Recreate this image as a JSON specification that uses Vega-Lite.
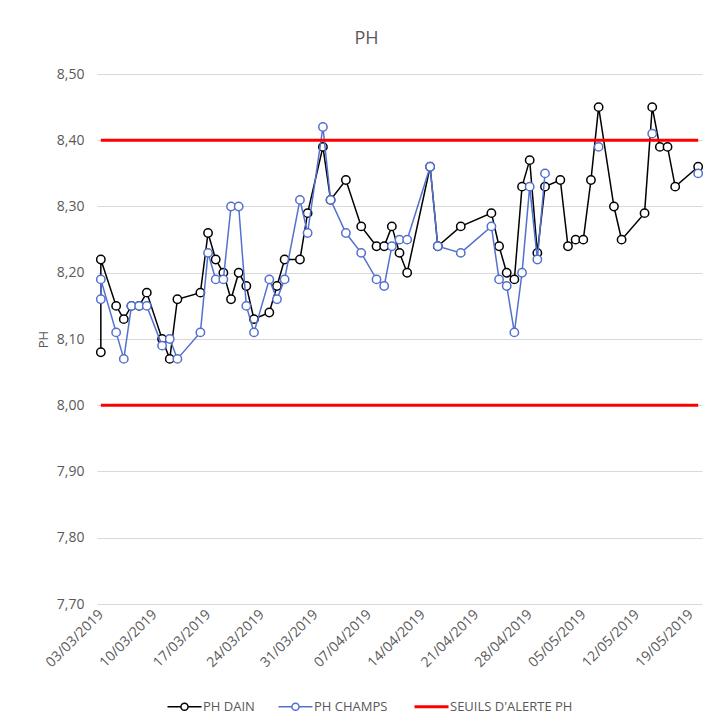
{
  "$schema": "https://vega.github.io/schema/vega-lite/v6.json",
  "width": 605,
  "height": 530,
  "autosize": {"type": "none"},
  "padding": {"left": 97, "top": 74, "right": 20, "bottom": 117},
  "background": "white",
  "config": {
    "view": {"stroke": null},
    "font": "Open Sans",
    "axis": {"labelFont": "Open Sans", "titleFont": "Open Sans", "labelColor": "#595959", "titleColor": "#595959", "labelFontSize": 14, "titleFontSize": 13, "titleFontWeight": "normal"},
    "legend": {"labelFont": "Open Sans", "labelColor": "#595959", "labelFontSize": 13}
  },
  "title": {"text": "PH", "font": "Open Sans", "fontSize": 18, "fontWeight": "normal", "color": "#595959", "anchor": "middle", "dx": -33, "offset": 19},
  "datasets": {
    "dain": [
      {"k": 1, "d": "2019-03-03", "v": 8.08},
      {"k": 2, "d": "2019-03-03", "v": 8.22},
      {"k": 3, "d": "2019-03-05", "v": 8.15},
      {"k": 4, "d": "2019-03-06", "v": 8.13},
      {"k": 5, "d": "2019-03-07", "v": 8.15},
      {"k": 6, "d": "2019-03-08", "v": 8.15},
      {"k": 7, "d": "2019-03-09", "v": 8.17},
      {"k": 8, "d": "2019-03-11", "v": 8.10},
      {"k": 9, "d": "2019-03-12", "v": 8.07},
      {"k": 10, "d": "2019-03-13", "v": 8.16},
      {"k": 11, "d": "2019-03-16", "v": 8.17},
      {"k": 12, "d": "2019-03-17", "v": 8.26},
      {"k": 13, "d": "2019-03-18", "v": 8.22},
      {"k": 14, "d": "2019-03-19", "v": 8.20},
      {"k": 15, "d": "2019-03-20", "v": 8.16},
      {"k": 16, "d": "2019-03-21", "v": 8.20},
      {"k": 17, "d": "2019-03-22", "v": 8.18},
      {"k": 18, "d": "2019-03-23", "v": 8.13},
      {"k": 19, "d": "2019-03-25", "v": 8.14},
      {"k": 20, "d": "2019-03-26", "v": 8.18},
      {"k": 21, "d": "2019-03-27", "v": 8.22},
      {"k": 22, "d": "2019-03-29", "v": 8.22},
      {"k": 23, "d": "2019-03-30", "v": 8.29},
      {"k": 24, "d": "2019-04-01", "v": 8.39},
      {"k": 25, "d": "2019-04-02", "v": 8.31},
      {"k": 26, "d": "2019-04-04", "v": 8.34},
      {"k": 27, "d": "2019-04-06", "v": 8.27},
      {"k": 28, "d": "2019-04-08", "v": 8.24},
      {"k": 29, "d": "2019-04-09", "v": 8.24},
      {"k": 30, "d": "2019-04-10", "v": 8.27},
      {"k": 31, "d": "2019-04-11", "v": 8.23},
      {"k": 32, "d": "2019-04-12", "v": 8.20},
      {"k": 33, "d": "2019-04-15", "v": 8.36},
      {"k": 34, "d": "2019-04-16", "v": 8.24},
      {"k": 35, "d": "2019-04-19", "v": 8.27},
      {"k": 36, "d": "2019-04-23", "v": 8.29},
      {"k": 37, "d": "2019-04-24", "v": 8.24},
      {"k": 38, "d": "2019-04-25", "v": 8.20},
      {"k": 39, "d": "2019-04-26", "v": 8.19},
      {"k": 40, "d": "2019-04-27", "v": 8.33},
      {"k": 41, "d": "2019-04-28", "v": 8.37},
      {"k": 42, "d": "2019-04-29", "v": 8.23},
      {"k": 43, "d": "2019-04-30", "v": 8.33},
      {"k": 44, "d": "2019-05-02", "v": 8.34},
      {"k": 45, "d": "2019-05-03", "v": 8.24},
      {"k": 46, "d": "2019-05-04", "v": 8.25},
      {"k": 47, "d": "2019-05-05", "v": 8.25},
      {"k": 48, "d": "2019-05-06", "v": 8.34},
      {"k": 49, "d": "2019-05-07", "v": 8.45},
      {"k": 50, "d": "2019-05-09", "v": 8.30},
      {"k": 51, "d": "2019-05-10", "v": 8.25},
      {"k": 52, "d": "2019-05-13", "v": 8.29},
      {"k": 53, "d": "2019-05-14", "v": 8.45},
      {"k": 54, "d": "2019-05-15", "v": 8.39},
      {"k": 55, "d": "2019-05-16", "v": 8.39},
      {"k": 56, "d": "2019-05-17", "v": 8.33},
      {"k": 57, "d": "2019-05-20", "v": 8.36}
    ],
    "champs": [
      {"k": 1, "p": "a", "d": "2019-03-03", "v": 8.16},
      {"k": 2, "p": "a", "d": "2019-03-03", "v": 8.19},
      {"k": 3, "p": "a", "d": "2019-03-05", "v": 8.11},
      {"k": 4, "p": "a", "d": "2019-03-06", "v": 8.07},
      {"k": 5, "p": "a", "d": "2019-03-07", "v": 8.15},
      {"k": 6, "p": "a", "d": "2019-03-08", "v": 8.15},
      {"k": 7, "p": "a", "d": "2019-03-09", "v": 8.15},
      {"k": 8, "p": "a", "d": "2019-03-11", "v": 8.09},
      {"k": 9, "p": "a", "d": "2019-03-12", "v": 8.10},
      {"k": 10, "p": "a", "d": "2019-03-13", "v": 8.07},
      {"k": 11, "p": "a", "d": "2019-03-16", "v": 8.11},
      {"k": 12, "p": "a", "d": "2019-03-17", "v": 8.23},
      {"k": 13, "p": "a", "d": "2019-03-18", "v": 8.19},
      {"k": 14, "p": "a", "d": "2019-03-19", "v": 8.19},
      {"k": 15, "p": "a", "d": "2019-03-20", "v": 8.30},
      {"k": 16, "p": "a", "d": "2019-03-21", "v": 8.30},
      {"k": 17, "p": "a", "d": "2019-03-22", "v": 8.15},
      {"k": 18, "p": "a", "d": "2019-03-23", "v": 8.11},
      {"k": 19, "p": "a", "d": "2019-03-25", "v": 8.19},
      {"k": 20, "p": "a", "d": "2019-03-26", "v": 8.16},
      {"k": 21, "p": "a", "d": "2019-03-27", "v": 8.19},
      {"k": 22, "p": "a", "d": "2019-03-29", "v": 8.31},
      {"k": 23, "p": "a", "d": "2019-03-30", "v": 8.26},
      {"k": 24, "p": "a", "d": "2019-04-01", "v": 8.42},
      {"k": 25, "p": "a", "d": "2019-04-02", "v": 8.31},
      {"k": 26, "p": "a", "d": "2019-04-04", "v": 8.26},
      {"k": 27, "p": "a", "d": "2019-04-06", "v": 8.23},
      {"k": 28, "p": "a", "d": "2019-04-08", "v": 8.19},
      {"k": 29, "p": "a", "d": "2019-04-09", "v": 8.18},
      {"k": 30, "p": "a", "d": "2019-04-10", "v": 8.24},
      {"k": 31, "p": "a", "d": "2019-04-11", "v": 8.25},
      {"k": 32, "p": "a", "d": "2019-04-12", "v": 8.25},
      {"k": 33, "p": "a", "d": "2019-04-15", "v": 8.36},
      {"k": 34, "p": "a", "d": "2019-04-16", "v": 8.24},
      {"k": 35, "p": "a", "d": "2019-04-19", "v": 8.23},
      {"k": 36, "p": "a", "d": "2019-04-23", "v": 8.27},
      {"k": 37, "p": "a", "d": "2019-04-24", "v": 8.19},
      {"k": 38, "p": "a", "d": "2019-04-25", "v": 8.18},
      {"k": 39, "p": "a", "d": "2019-04-26", "v": 8.11},
      {"k": 40, "p": "a", "d": "2019-04-27", "v": 8.20},
      {"k": 41, "p": "a", "d": "2019-04-28", "v": 8.33},
      {"k": 42, "p": "a", "d": "2019-04-29", "v": 8.22},
      {"k": 43, "p": "a", "d": "2019-04-30", "v": 8.35},
      {"k": 44, "p": "b", "d": "2019-05-07", "v": 8.39},
      {"k": 45, "p": "c", "d": "2019-05-14", "v": 8.41},
      {"k": 46, "p": "e", "d": "2019-05-20", "v": 8.35}
    ],
    "seuils": [
      {"g": "haut", "d": "2019-03-03", "v": 8.40},
      {"g": "haut", "d": "2019-05-20", "v": 8.40},
      {"g": "bas", "d": "2019-03-03", "v": 8.00},
      {"g": "bas", "d": "2019-05-20", "v": 8.00}
    ]
  },
  "encoding": {
    "x": {
      "field": "d", "type": "temporal", "title": null,
      "scale": {"type": "utc", "domain": [1551528000000, 1558353600000]},
      "axis": {
        "values": [1551571200000, 1552176000000, 1552780800000, 1553385600000, 1553990400000, 1554595200000, 1555200000000, 1555804800000, 1556409600000, 1557014400000, 1557619200000, 1558224000000],
        "labelExpr": "utcFormat(datum.value, '%d/%m/%Y')",
        "labelAngle": -45, "labelAlign": "right", "labelBaseline": "middle",
        "labelPadding": 8, "domain": false, "ticks": false, "tickSize": 0, "grid": false, "labelOverlap": false, "labelFlush": false, "labelBound": false
      }
    },
    "y": {
      "field": "v", "type": "quantitative", "title": "PH",
      "scale": {"domain": [7.7, 8.5], "zero": false, "nice": false},
      "axis": {
        "values": [7.7, 7.8, 7.9, 8.0, 8.1, 8.2, 8.3, 8.4, 8.5],
        "labelExpr": "replace(format(datum.value, '.2f'), '.', ',')",
        "domain": false, "ticks": false, "tickSize": 0, "labelPadding": 13, "titlePadding": 6,
        "grid": true, "gridColor": "#d9d9d9", "gridWidth": 1
      }
    }
  },
  "layer": [
    {
      "data": {"name": "dain"},
      "mark": {"type": "line", "strokeWidth": 1.5},
      "encoding": {
        "order": {"field": "k"},
        "color": {
          "datum": "PH DAIN", "type": "nominal",
          "scale": {"domain": ["PH DAIN", "PH CHAMPS", "SEUILS D'ALERTE PH"], "range": ["#000000", "#5470CF", "#FF0000"]},
          "legend": {
            "orient": "none", "legendX": 81, "legendY": 626, "direction": "horizontal", "title": null,
            "symbolSize": 1156, "symbolStrokeWidth": 1.5, "labelOffset": 12, "columnPadding": 20,
            "labelFontSize": 13, "labelColor": "#595959",
            "encode": {
              "symbols": {
                "update": {
                  "shape": {"signal": "datum.value === 'PH DAIN' || datum.value === 'PH CHAMPS' ? 'M-1,0L-0.21,0M0.21,0L1,0M-0.21,0A0.21,0.21 0 1,1 0.21,0A0.21,0.21 0 1,1 -0.21,0Z' : 'stroke'"},
                  "strokeWidth": {"signal": "datum.value === 'PH DAIN' || datum.value === 'PH CHAMPS' ? 1.5 : 3"},
                  "fill": {"value": "white"},
                  "opacity": {"value": 1}
                }
              }
            }
          }
        }
      }
    },
    {
      "data": {"name": "dain"},
      "mark": {"type": "point", "shape": "circle", "filled": true, "fill": "white", "stroke": "#000000", "strokeWidth": 1.5, "size": 70, "opacity": 1}
    },
    {
      "data": {"name": "champs"},
      "mark": {"type": "line", "strokeWidth": 1.5},
      "encoding": {
        "order": {"field": "k"},
        "detail": {"field": "p"},
        "color": {"datum": "PH CHAMPS", "type": "nominal"}
      }
    },
    {
      "data": {"name": "champs"},
      "mark": {"type": "point", "shape": "circle", "filled": true, "fill": "white", "stroke": "#5470CF", "strokeWidth": 1.5, "size": 70, "opacity": 1}
    },
    {
      "data": {"name": "seuils"},
      "mark": {"type": "line", "strokeWidth": 3},
      "encoding": {
        "detail": {"field": "g"},
        "color": {"datum": "SEUILS D'ALERTE PH", "type": "nominal"}
      }
    }
  ]
}
